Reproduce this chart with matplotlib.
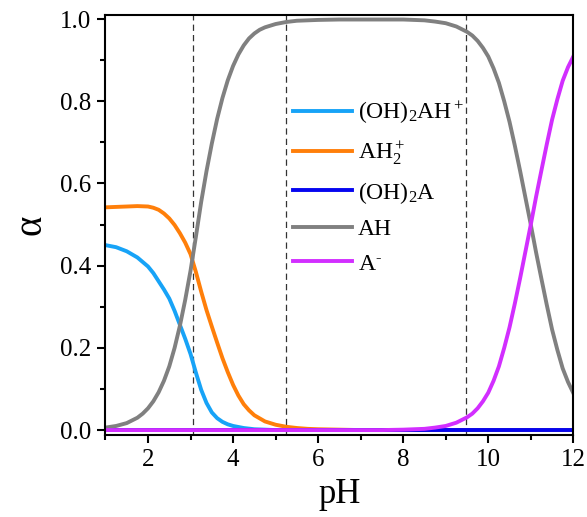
"""
Species distribution (alpha) versus pH.
Five species, with dashed guides at the transition pH values.
"""

import matplotlib
matplotlib.use("Agg")
import matplotlib.pyplot as plt
from matplotlib.ticker import MultipleLocator

plt.rcParams["font.family"] = ["Liberation Serif", "DejaVu Serif"]
plt.rcParams["mathtext.fontset"] = "custom"
plt.rcParams["mathtext.rm"] = "Liberation Serif"
plt.rcParams["mathtext.it"] = "Liberation Serif:italic"
plt.rcParams["mathtext.bf"] = "Liberation Serif:bold"

# (OH)2AH+
PH_OH2AH = [1.0, 1.25, 1.5, 1.75, 2.0, 2.125, 2.25, 2.375, 2.5, 2.625, 2.75,
            2.875, 3.0, 3.125, 3.25, 3.375, 3.5, 3.625, 3.75, 3.875, 4.0,
            4.25, 4.5, 4.75, 5.0, 12.0]
OH2AH = [0.450, 0.445, 0.435, 0.420, 0.398, 0.382, 0.362, 0.342, 0.320, 0.290,
         0.256, 0.222, 0.185, 0.140, 0.098, 0.066, 0.043, 0.029, 0.020, 0.014,
         0.010, 0.005, 0.002, 0.001, 0.0, 0.0]

# AH2+
PH_AH2 = [1.0, 1.25, 1.5, 1.75, 2.0, 2.125, 2.25, 2.375, 2.5, 2.625, 2.75,
          2.875, 3.0, 3.125, 3.25, 3.375, 3.5, 3.625, 3.75, 3.875, 4.0, 4.125,
          4.25, 4.375, 4.5, 4.75, 5.0, 5.25, 5.5, 5.75, 6.0, 6.5, 7.0, 12.0]
AH2 = [0.542, 0.543, 0.544, 0.545, 0.544, 0.541, 0.536, 0.527, 0.515, 0.499,
       0.479, 0.456, 0.428, 0.385, 0.337, 0.292, 0.252, 0.213, 0.175, 0.141,
       0.110, 0.084, 0.063, 0.048, 0.036, 0.021, 0.013, 0.008, 0.005, 0.003,
       0.002, 0.001, 0.0, 0.0]

# (OH)2A stays at zero over the whole range
PH_OH2A = [1.0, 12.0]
OH2A = [0.0, 0.0]

# AH
PH_AH = [1.0, 1.25, 1.5, 1.75, 1.875, 2.0, 2.125, 2.25, 2.375, 2.5, 2.625,
         2.75, 2.875, 3.0, 3.125, 3.25, 3.375, 3.5, 3.625, 3.75, 3.875, 4.0,
         4.125, 4.25, 4.375, 4.5, 4.625, 4.75, 5.0, 5.25, 5.5, 5.75, 6.0,
         6.5, 7.0, 7.5, 8.0, 8.25, 8.5, 8.75, 9.0, 9.25, 9.5, 9.625, 9.75,
         9.875, 10.0, 10.125, 10.25, 10.375, 10.5, 10.625, 10.75, 10.875,
         11.0, 11.125, 11.25, 11.375, 11.5, 11.625, 11.75, 11.875, 12.0]
AH = [0.006, 0.010, 0.017, 0.030, 0.040, 0.053, 0.070, 0.092, 0.120, 0.155,
      0.200, 0.254, 0.317, 0.388, 0.470, 0.555, 0.630, 0.697, 0.757, 0.808,
      0.851, 0.886, 0.914, 0.936, 0.953, 0.965, 0.974, 0.980, 0.988, 0.993,
      0.996, 0.997, 0.998, 0.999, 0.999, 0.999, 0.999, 0.998, 0.997, 0.994,
      0.990, 0.982, 0.969, 0.960, 0.947, 0.930, 0.909, 0.880, 0.845, 0.800,
      0.750, 0.692, 0.630, 0.565, 0.500, 0.432, 0.368, 0.305, 0.245, 0.195,
      0.150, 0.117, 0.090]

# A-
PH_A = [1.0, 7.5, 8.0, 8.25, 8.5, 8.75, 9.0, 9.25, 9.5, 9.625, 9.75, 9.875,
        10.0, 10.125, 10.25, 10.375, 10.5, 10.625, 10.75, 10.875, 11.0,
        11.125, 11.25, 11.375, 11.5, 11.625, 11.75, 11.875, 12.0]
A_MINUS = [0.0, 0.0, 0.001, 0.002, 0.003, 0.006, 0.010, 0.018, 0.031, 0.040,
           0.053, 0.070, 0.091, 0.120, 0.155, 0.200, 0.250, 0.308, 0.370,
           0.435, 0.500, 0.568, 0.632, 0.695, 0.755, 0.805, 0.850, 0.883,
           0.909]

GUIDES = [3.05, 5.25, 9.48]

fig = plt.figure(figsize=(5.87, 5.17), dpi=100)
ax = fig.add_axes([0.1797, 0.1586, 0.797, 0.8124])

for x in GUIDES:
    ax.axvline(x, color="#333333", lw=0.9, dashes=(5, 3.3), zorder=1)

lw = 2.8
ax.plot(PH_OH2AH, OH2AH, color="#17A3F7", lw=lw, label=r"(OH)$_2$AH$^+$")
ax.plot(PH_AH2, AH2, color="#FF7F0A", lw=lw, label=r"AH$_2^+$")
ax.plot(PH_OH2A, OH2A, color="#0505F0", lw=lw, label=r"(OH)$_2$A")
ax.plot(PH_AH, AH, color="#808080", lw=lw, label="AH")
ax.plot(PH_A, A_MINUS, color="#D22EFF", lw=lw, label=r"A$^{\text{-}}$")

ax.set_xlim(1, 12)
ax.set_ylim(-0.012, 1.01)
ax.xaxis.set_major_locator(MultipleLocator(2))
ax.xaxis.set_minor_locator(MultipleLocator(1))
ax.yaxis.set_minor_locator(MultipleLocator(0.1))
ax.set_yticks([0, 0.2, 0.4, 0.6, 0.8, 1.0])
ax.set_yticklabels(["0.0", "0.2", "0.4", "0.6", "0.8", "1.0"])
ax.tick_params(which="major", direction="out", length=6, width=1.5,
               labelsize=18, pad=4)
ax.tick_params(which="minor", direction="out", length=3.5, width=1.5)
for s in ax.spines.values():
    s.set_linewidth(1.5)

ax.set_xlabel("pH", fontsize=25, labelpad=5)
ax.set_ylabel("α", fontsize=28, labelpad=8)

ax.legend(loc="upper left", bbox_to_anchor=(0.381, 0.82), frameon=False,
          fontsize=17, handlelength=2.5, handletextpad=0.25,
          labelspacing=0.55, borderaxespad=0)

fig.savefig("out.png", dpi=100)
